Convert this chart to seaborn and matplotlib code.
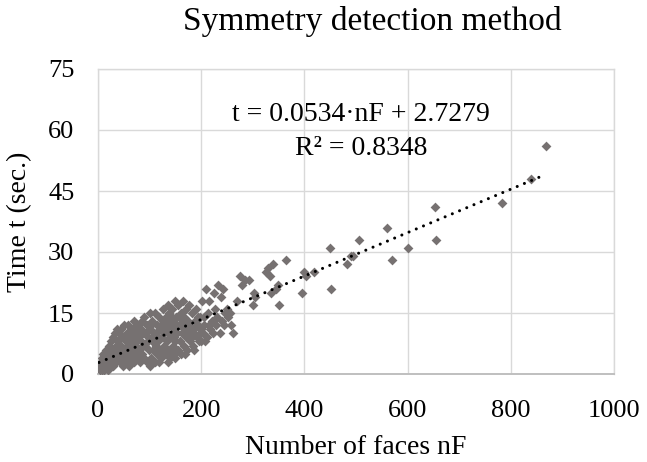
import matplotlib
matplotlib.use("Agg")
import matplotlib.pyplot as plt
import numpy as np
import pandas as pd
import seaborn as sns

# Number of faces of each test model and the time the symmetry detection took
faces = [
    2, 4, 5, 6, 8, 8, 10, 10, 12, 12, 14, 15, 16, 18, 18, 20, 20, 22, 22, 24,
    25, 26, 28, 28, 30, 30, 32, 33, 34, 35, 36, 38, 38, 40, 40,
    42, 44, 45, 46, 48, 48, 50, 50, 52, 54, 55, 56, 58, 58, 60, 60, 62, 64,
    65, 66, 68, 70, 70, 72, 72, 74, 75, 76, 78, 80, 80,
    82, 84, 85, 86, 88, 90, 90, 92, 94, 95, 96, 98, 100, 100, 102, 104, 105,
    106, 108, 110, 110, 112, 114, 115, 116, 118, 120, 120,
    122, 124, 125, 126, 128, 130, 130, 132, 134, 135, 136, 138, 138, 140, 140,
    142, 144, 145, 146, 148, 148, 150, 150, 152, 154, 155, 156, 158, 158, 160,
    160, 162, 164, 165, 166, 168, 170, 170,
    172, 174, 176, 178, 180, 182, 184, 185, 188, 190, 192, 194, 196, 198, 200,
    202, 204, 206, 210, 212, 214, 216, 218, 220, 224, 226, 228,
    232, 236, 238, 242, 244, 246, 250, 252, 256, 258, 262, 270, 275, 280, 285,
    293, 300, 303, 305,
    52, 57, 63, 67, 73, 77, 83, 87, 93, 97, 103, 107, 113, 117, 123, 127,
    133, 137, 143, 147, 153, 157, 163, 167, 173, 177, 183, 187, 193, 197,
    205, 208, 215, 222, 230, 240,
    100, 118, 135, 150, 168, 186, 200,
    325, 330, 333, 335, 340, 345, 348, 350, 364, 395, 400, 404, 418, 450, 452,
    483, 490, 495, 505, 560, 570, 600, 653, 655, 783, 840, 868,
]
times = [
    2, 1, 3, 2, 1, 4, 2, 5, 3, 1, 4, 2, 6, 3, 5, 1, 4, 7, 2, 5,
    3, 8, 4, 6, 2, 9, 5, 10, 3, 7, 11, 4, 8, 6, 10,
    3, 7, 11, 5, 2, 9, 4, 12, 6, 8, 3, 10, 5, 12, 7, 2, 9, 4,
    11, 6, 8, 3, 13, 5, 10, 7, 12, 4, 9, 6, 11,
    3, 8, 13, 5, 10, 4, 14, 7, 12, 3, 9, 6, 11, 15, 4, 8, 13,
    6, 10, 3, 15, 7, 12, 5, 9, 14, 6, 11,
    4, 9, 16, 13, 7, 5, 11, 14, 8, 17, 10, 6, 15, 12, 4,
    9, 16, 7, 13, 11, 5, 18, 8, 14, 10, 6, 17, 12, 8, 15,
    5, 10, 18, 13, 7, 11, 16, 9,
    6, 13, 17, 8, 11, 15, 7, 10, 13, 16, 9, 12, 8, 14, 11,
    18, 10, 12, 21, 9, 15, 18, 11, 13, 20, 16, 12,
    22, 10, 19, 21, 12, 15, 16, 14, 15, 12, 10, 18, 24, 22, 23,
    23, 17, 20, 19,
    9, 7, 6, 10, 8, 6, 11, 7, 10, 8, 12, 9, 10, 8, 12, 10,
    12, 13, 14, 9, 12, 14, 12, 14, 10, 12, 9, 11, 14, 10,
    14, 8, 12, 10, 14, 13,
    2, 3, 3, 4, 5, 6, 8,
    25, 26, 24, 20, 27, 21, 22, 17, 28, 20, 25, 24, 25, 31, 21,
    27, 29, 29, 33, 36, 28, 31, 41, 33, 42, 48, 56,
]

# Linear trendline fitted to the measurements
slope = 0.0534
intercept = 2.7279
r_squared = 0.8348

x_ticks = [0, 200, 400, 600, 800, 1000]
y_ticks = [0, 15, 30, 45, 60, 75]

sns.set_theme(style="white")
plt.rcParams["font.family"] = ["Liberation Serif", "DejaVu Serif"]

W, H = 647, 462
fig = plt.figure(figsize=(W / 100, H / 100), dpi=100)
ax = fig.add_axes([98 / W, (H - 374) / H, 516 / W, 305 / H])

df = pd.DataFrame({"nF": faces, "t": times})
sns.scatterplot(data=df, x="nF", y="t", marker="D", s=25, color="#767171",
                linewidth=0, ax=ax, zorder=3, legend=False)

trend_x = np.array([min(faces), max(faces)], dtype=float)
trend = pd.DataFrame({"nF": trend_x, "t": slope * trend_x + intercept})
ax.plot(trend["nF"], trend["t"], color="black", linewidth=2.2,
        linestyle=(0, (0.01, 2.55)), dash_capstyle="round", zorder=4)

ax.set_xlim(0, 1000)
ax.set_ylim(0, 75)
ax.set_xticks(x_ticks)
ax.set_yticks(y_ticks)
ax.set_xticklabels([str(v) for v in x_ticks])
ax.set_yticklabels([str(v) for v in y_ticks])
ax.tick_params(axis="both", length=0, labelsize=19, colors="black")
ax.tick_params(axis="x", pad=19)
ax.tick_params(axis="y", pad=17)

ax.grid(True, color="#d9d9d9", linewidth=1.0, zorder=0)
ax.set_axisbelow(True)
for side in ["top", "right", "left"]:
    ax.spines[side].set_color("#d9d9d9")
    ax.spines[side].set_linewidth(1.0)
ax.spines["bottom"].set_color("#bfbfbf")
ax.spines["bottom"].set_linewidth(1.4)

ax.set_xlabel("Number of faces nF", fontsize=20, color="black")
ax.set_ylabel("Time t (sec.)", fontsize=20, color="black")
ax.xaxis.set_label_coords(0.5, (374 - 454) / 305)
ax.xaxis.label.set_va("baseline")
ax.yaxis.set_label_coords((20 - 98) / 516, 0.5)
ax.yaxis.label.set_va("center")

fig.text(372 / W, 1 - 30 / H, "Symmetry detection method", fontsize=24,
         ha="center", va="baseline", color="black")

eq_text = f"t = {slope:.4f}·nF + {intercept:.4f}"
r2_text = f"R² = {r_squared:.4f}"
ax.text(0.5097, (374 - 121) / 305, eq_text, transform=ax.transAxes,
        fontsize=20, ha="center", va="baseline", color="black", zorder=5)
ax.text(0.5097, (374 - 155) / 305, r2_text, transform=ax.transAxes,
        fontsize=20, ha="center", va="baseline", color="black", zorder=5)

fig.savefig("out.png", dpi=100, facecolor="white")
